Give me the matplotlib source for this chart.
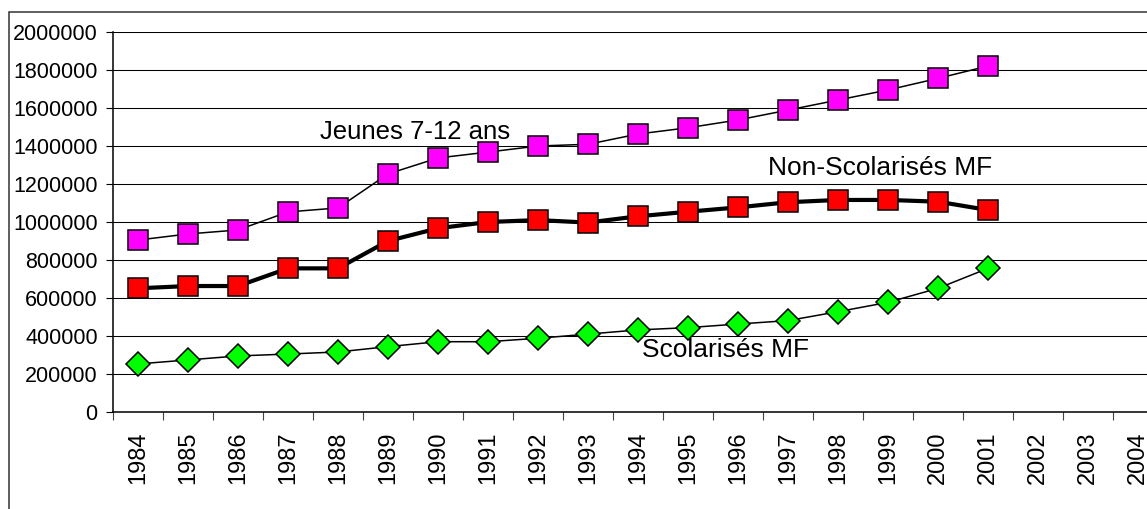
import matplotlib.pyplot as plt
from matplotlib.patches import Rectangle

plt.rcParams['font.family'] = ['Liberation Sans', 'DejaVu Sans']

years = [str(y) for y in range(1984, 2005)]
data_years = list(range(1984, 2002))

jeunes_7_12 = [905000, 937000, 958000, 1053000, 1074000, 1253000, 1337000, 1368000,
               1400000, 1409000, 1463000, 1496000, 1537000, 1589000, 1642000, 1695000,
               1756000, 1821000]
non_scolarises = [651000, 663000, 663000, 756000, 756000, 900000, 967000, 1000000,
                  1010000, 997000, 1030000, 1054000, 1077000, 1104000, 1116000, 1116000,
                  1107000, 1063000]
scolarises = [253000, 274000, 295000, 305000, 316000, 344000, 370000, 370000,
              388000, 410000, 432000, 444000, 463000, 481000, 528000, 577000,
              651000, 756000]

fig = plt.figure(figsize=(11.47, 5.09), dpi=100)

# chart area frame (runs off the right and bottom edges)
fig.patches.append(Rectangle((9 / 1147, -0.2), 1.2, 1.2 - 12 / 509,
                             transform=fig.transFigure, fill=False,
                             edgecolor='#333333', linewidth=1.1))

ax = fig.add_axes([113 / 1147, 97 / 509, 1050 / 1147, 380 / 509])

xi = [data_years.index(y) for y in data_years]

ax.plot(xi, jeunes_7_12, color='black', linewidth=1.1, marker='s', markersize=14.5,
        markerfacecolor='#FF00FF', markeredgecolor='black', markeredgewidth=1.1, zorder=3)
ax.plot(xi, non_scolarises, color='black', linewidth=3, marker='s', markersize=14.5,
        markerfacecolor='#FF0000', markeredgecolor='black', markeredgewidth=1.1, zorder=3)
ax.plot(xi, scolarises, color='black', linewidth=1.1, marker='D', markersize=12.5,
        markerfacecolor='#00FF00', markeredgecolor='black', markeredgewidth=1.1, zorder=3)

ax.set_xlim(-0.5, len(years) - 0.5)
ax.set_ylim(0, 2000000)
ax.set_yticks(range(0, 2000001, 200000))
ax.set_yticklabels([str(v) for v in range(0, 2000001, 200000)], fontsize=15.5)
ax.tick_params(axis='y', length=5, width=0.8, pad=6, colors='black')

# category boundaries carry the tick marks, labels sit at the centres
ax.set_xticks([k - 0.5 for k in range(len(years) + 1)])
ax.set_xticklabels([])
ax.set_xticks(range(len(years)), minor=True)
ax.set_xticklabels(years, minor=True, rotation=90, fontsize=17)
ax.tick_params(axis='x', which='major', length=6, width=0.8, color='#444444')
ax.tick_params(axis='x', which='minor', length=0, pad=14)

ax.grid(axis='y', color='black', linewidth=0.75)
ax.set_axisbelow(True)
for side in ['top', 'right']:
    ax.spines[side].set_visible(False)
ax.spines['left'].set_linewidth(1.1)
ax.spines['bottom'].set_linewidth(1.1)

ax.text(3.64, 1474000, 'Jeunes 7-12 ans', fontsize=18.5, va='center', ha='left')
ax.text(12.6, 1285000, 'Non-Scolarisés MF', fontsize=19, va='center', ha='left')
ax.text(10.08, 325000, 'Scolarisés MF', fontsize=19, va='center', ha='left')

fig.savefig('out.png', dpi=100)
